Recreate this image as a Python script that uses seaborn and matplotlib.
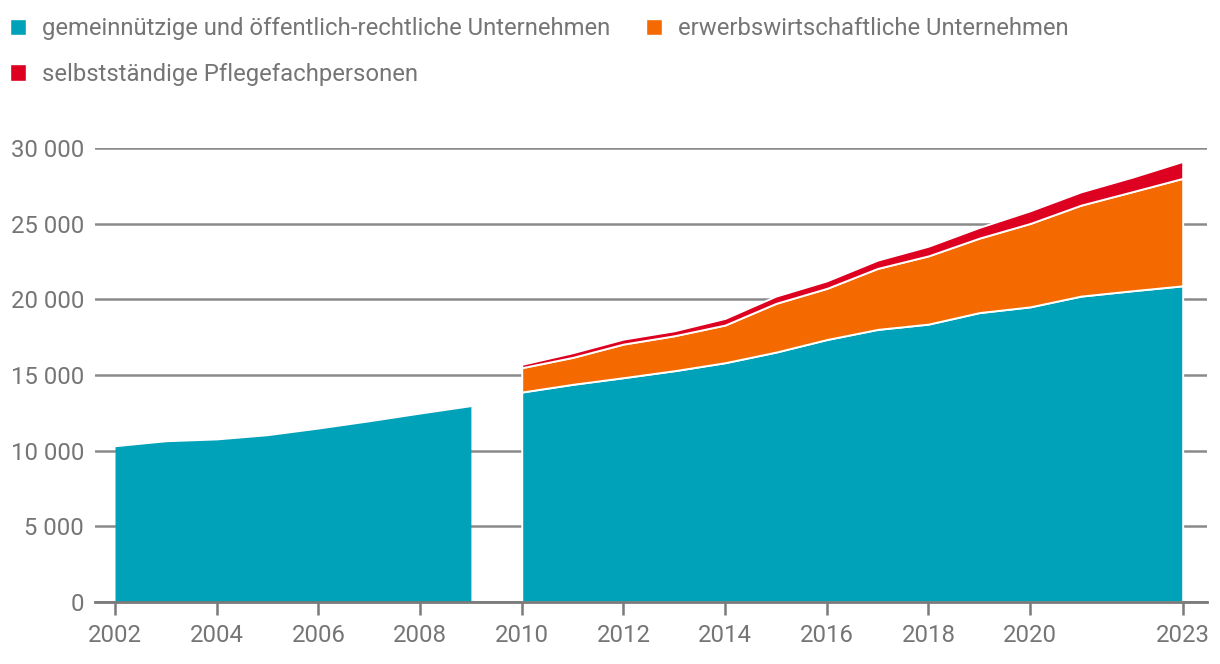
import numpy as np
import pandas as pd
import seaborn as sns
import matplotlib.pyplot as plt
from matplotlib.patches import Patch
from matplotlib.ticker import FuncFormatter

sns.set_theme(style="white")
plt.rcParams['font.family'] = ['Roboto', 'DejaVu Sans']

# Daten
jahre_alt = [2002, 2003, 2004, 2005, 2006, 2007, 2008, 2009]
gemein_alt = [10260, 10590, 10710, 10990, 11430, 11910, 12420, 12910]

jahre_neu = list(range(2010, 2024))
gemein_neu = [13870, 14380, 14820, 15280, 15810, 16510, 17340, 18010, 18360, 19120, 19500, 20210, 20560, 20890]
erwerb_neu = [1610, 1780, 2220, 2310, 2490, 3220, 3380, 4030, 4510, 4920, 5510, 6010, 6540, 7100]
selbst_neu = [220, 310, 330, 330, 440, 480, 500, 550, 640, 710, 840, 880, 960, 1120]

labels = ['gemeinnützige und öffentlich-rechtliche Unternehmen',
          'erwerbswirtschaftliche Unternehmen',
          'selbstständige Pflegefachpersonen']
farben = ['#00a2b9', '#f46a00', '#dd0020']
xticks = [2002, 2004, 2006, 2008, 2010, 2012, 2014, 2016, 2018, 2020, 2023]

grau = '#757575'
fs = 17.2

fig = plt.figure(figsize=(12.2, 6.64), dpi=100)
ax = fig.add_axes([0.078, 0.0934, 0.911, 0.6838])

ax.stackplot(jahre_alt, gemein_alt, colors=farben[:1], edgecolor='white', linewidth=0, zorder=2)
ax.stackplot(jahre_neu, gemein_neu, erwerb_neu, selbst_neu, colors=farben,
             edgecolor='white', linewidth=1.4, zorder=2)

ax.set_xlim(2002 - 0.39, 2023 + 0.47)
ax.set_ylim(0, 30000)
ax.set_xticks(xticks)
ax.set_yticks(range(0, 30001, 5000))
ax.yaxis.set_major_formatter(FuncFormatter(lambda v, p: f'{int(v):,}'.replace(',', ' ')))

ax.grid(axis='y', color='#8a8a8a', linewidth=1.8, zorder=0)
ax.set_axisbelow(True)
for s in ['top', 'right', 'left']:
    ax.spines[s].set_visible(False)
ax.spines['bottom'].set_color('#7a7a7a')
ax.spines['bottom'].set_linewidth(2)
ax.spines['bottom'].set_zorder(3)

ax.tick_params(axis='x', bottom=True, length=9, width=1.8, color='#7a7a7a',
               labelsize=fs, labelcolor=grau, pad=7)
ax.tick_params(axis='y', left=False, length=0, labelsize=fs, labelcolor=grau, pad=8)

handles = [Patch(facecolor=farben[0], label=labels[0]),
           Patch(facecolor=farben[2], label=labels[2]),
           Patch(facecolor=farben[1], label=labels[1])]
leg = fig.legend(handles=handles, loc='upper left', bbox_to_anchor=(10 / 1220, 1 - 17 / 664), ncol=2,
                 frameon=False, fontsize=fs, handlelength=0.66, handleheight=0.66,
                 handletextpad=0.68, columnspacing=1.5, labelspacing=0.96,
                 borderaxespad=0, borderpad=0)
for t in leg.get_texts():
    t.set_color(grau)

fig.savefig('out.png', dpi=100)
